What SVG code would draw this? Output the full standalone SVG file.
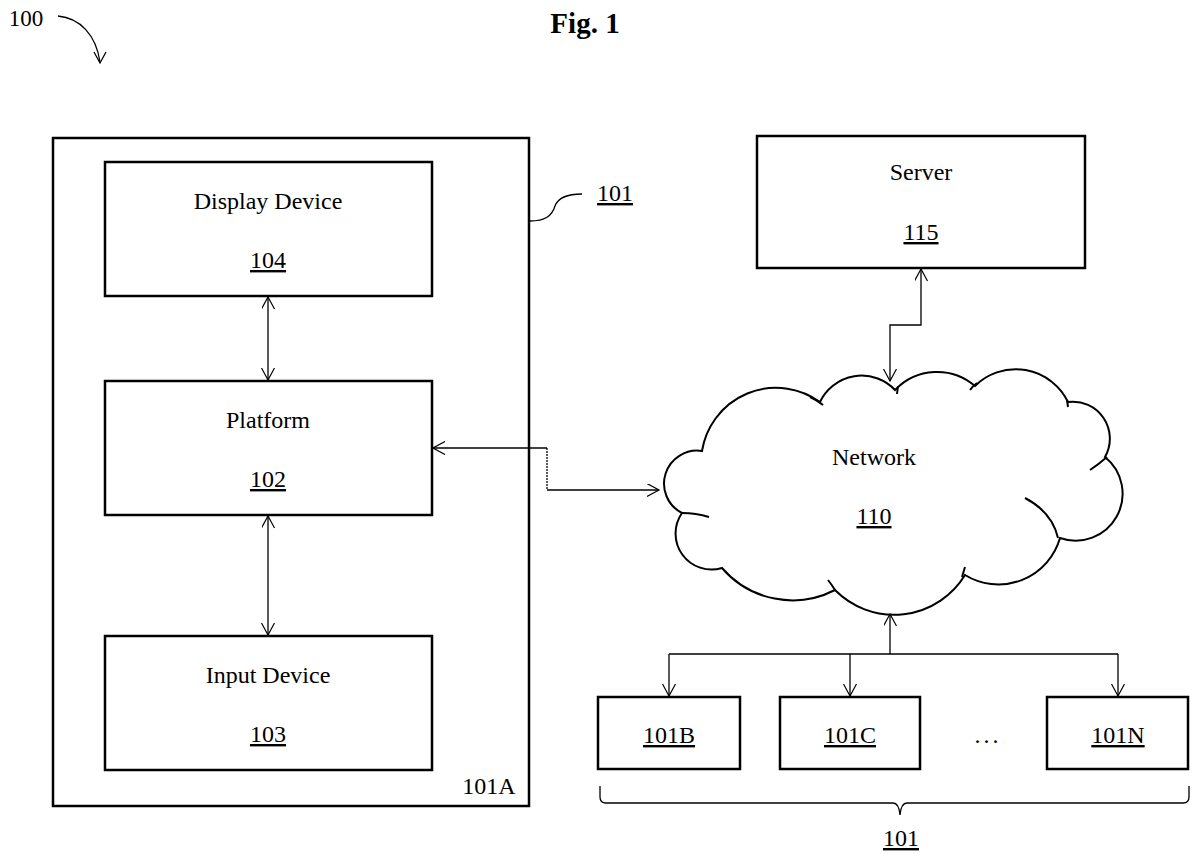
<svg xmlns="http://www.w3.org/2000/svg" width="1200" height="863" viewBox="0 0 1200 863">
<defs>
<style>
.box{fill:none;stroke:#000;stroke-width:2.5}
.ln{fill:none;stroke:#000;stroke-width:1.3}
.t{font-family:"Liberation Serif","Times New Roman",serif;font-size:24px;fill:#000;text-anchor:middle}
.u{text-decoration:underline}
.cloud{fill:none;stroke:#000;stroke-width:2}
</style>
<marker id="ah" viewBox="0 0 14 14" refX="12.5" refY="6.5" markerWidth="14" markerHeight="14" markerUnits="userSpaceOnUse" orient="auto-start-reverse">
<path d="M0.5,0 L12.5,6.5 L0.5,13" fill="none" stroke="#000" stroke-width="1.2"/>
</marker>
</defs>
<rect width="1200" height="863" fill="#fff"/>

<text x="585" y="33" class="t" style="font-weight:bold;font-size:29px">Fig. 1</text>

<g id="label100">
<text x="26" y="26" class="t" style="font-size:23px">100</text>
<path class="ln" d="M58,16 C80,18 96,35 100,62"/>
<path class="ln" d="M94,52 L100,63 L106,52"/>
</g>

<g id="node-101A">
<rect class="box" x="53" y="138" width="476" height="668"/>
<text x="489" y="794" class="t">101A</text>
</g>

<g id="label101">
<path class="ln" d="M530,221 C545,221 552,216 555,206 C558,198 567,194 582,194"/>
<text x="615" y="201" class="t u">101</text>
</g>

<g id="node-104">
<rect class="box" x="105" y="162" width="327" height="134"/>
<text x="268" y="209" class="t">Display Device</text>
<text x="268" y="268" class="t u">104</text>
</g>

<g id="node-102">
<rect class="box" x="105" y="381" width="327" height="134"/>
<text x="268" y="428" class="t">Platform</text>
<text x="268" y="487" class="t u">102</text>
</g>

<g id="node-103">
<rect class="box" x="105" y="636" width="327" height="134"/>
<text x="268" y="683" class="t">Input Device</text>
<text x="268" y="742" class="t u">103</text>
</g>

<g id="node-115">
<rect class="box" x="757" y="136" width="328" height="132"/>
<text x="921" y="180" class="t">Server</text>
<text x="921" y="240" class="t u">115</text>
</g>

<g id="node-110">
<path class="cloud" d="M682,513 A33,33 0 0 1 702,451 A75,75 0 0 1 820,402 A46,46 0 0 1 895,390 A58,58 0 0 1 975,386 A58,58 0 0 1 1068,402 A37,37 0 0 1 1105,457 A47,47 0 0 1 1060,538 A64,64 0 0 1 965,575 A83,83 0 0 1 835,590 A93,93 0 0 1 722,568 A36,36 0 0 1 682,513 Z"/>
<path class="cloud" d="M682,513 Q696,513 709,517 M810,397 Q817,400 823,405 M897,394 L898,386 M970,390 Q973,386 977,383 M1068,407 L1067,400 M1090,470 Q1099,464 1107,457 M1025,498 Q1052,512 1058,538 M965,567 L962,577 M828,580 Q832,585 835,590"/>
<text x="874" y="465" class="t">Network</text>
<text x="874" y="524" class="t u">110</text>
</g>

<g id="node-101B">
<rect class="box" x="598" y="697" width="142" height="72"/>
<text x="669" y="743" class="t u">101B</text>
</g>
<g id="node-101C">
<rect class="box" x="780" y="697" width="140" height="72"/>
<text x="850" y="743" class="t u">101C</text>
</g>
<text x="988" y="743" class="t" style="letter-spacing:3px">...</text>
<g id="node-101N">
<rect class="box" x="1047" y="697" width="141" height="72"/>
<text x="1118" y="743" class="t u">101N</text>
</g>

<g id="brace101">
<path class="ln" d="M600,786 V797 Q600,803 606,803 H893 Q899,803 900,815 Q901,803 907,803 H1183 Q1189,803 1189,797 V786"/>
<text x="901" y="846" class="t u">101</text>
</g>

<g id="connectors">
<path class="ln" d="M268,297 V380" marker-start="url(#ah)" marker-end="url(#ah)"/>
<path class="ln" d="M268,516 V635" marker-start="url(#ah)" marker-end="url(#ah)"/>
<path class="ln" d="M433,448 H547" marker-start="url(#ah)"/>
<path class="ln" d="M547,448 V490" stroke-dasharray="2,1"/>
<path class="ln" d="M547,490 H659" marker-end="url(#ah)"/>
<path class="ln" d="M921,269 V325 H890 V381" marker-start="url(#ah)" marker-end="url(#ah)"/>
<path class="ln" d="M890,614 V654" marker-start="url(#ah)"/>
<path class="ln" d="M669,654 H1118"/>
<path class="ln" d="M669,654 V696" marker-end="url(#ah)"/>
<path class="ln" d="M850,654 V696" marker-end="url(#ah)"/>
<path class="ln" d="M1118,654 V696" marker-end="url(#ah)"/>
</g>
</svg>
